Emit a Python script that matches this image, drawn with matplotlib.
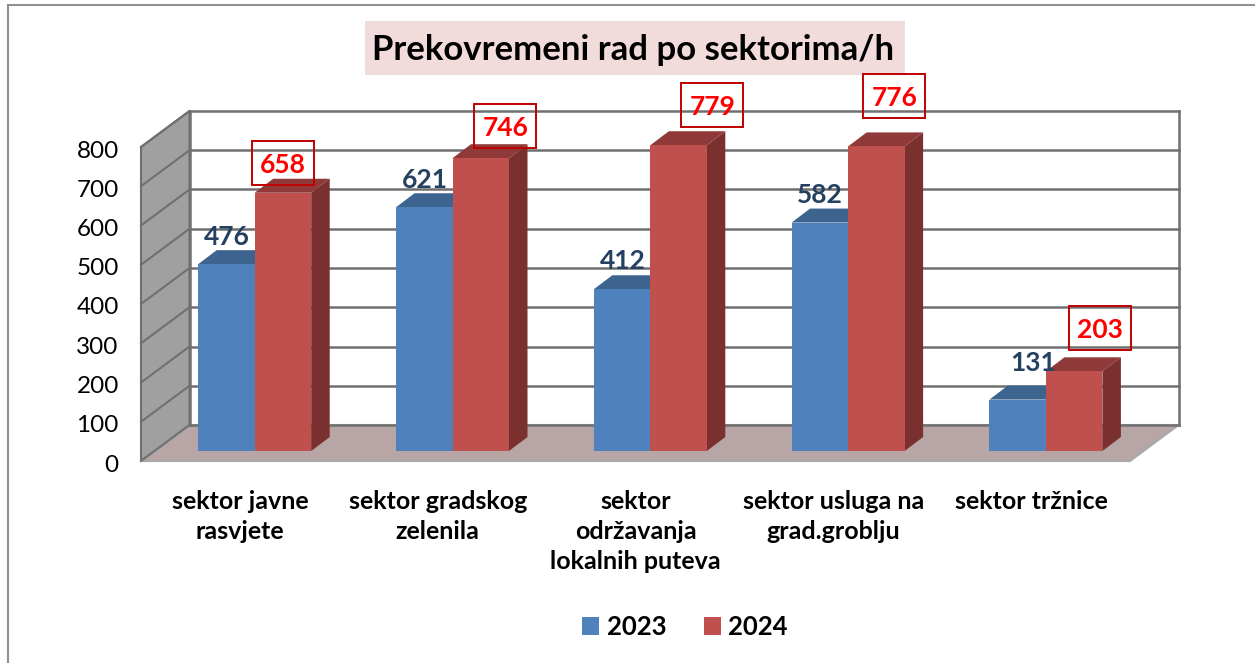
"""
Overtime hours per sector, drawn as a fake 3D column chart.
"""

import matplotlib
matplotlib.use("Agg")

import matplotlib.pyplot as plt
from matplotlib.lines import Line2D
from matplotlib.patches import Polygon, Rectangle
from matplotlib.transforms import ScaledTranslation

categories = [
    "sektor javne\nrasvjete",
    "sektor gradskog\nzelenila",
    "sektor\nodržavanja\nlokalnih puteva",
    "sektor usluga na\ngrad.groblju",
    "sektor tržnice",
]
values_2023 = [476, 621, 412, 582, 131]
values_2024 = [658, 746, 779, 776, 203]
y_ticks = [0, 100, 200, 300, 400, 500, 600, 700, 800]

W, H = 1255, 663
plt.rcParams["font.family"] = ["Lato", "DejaVu Sans"]

# front plane of the chart box, in pixels
LEFT, RIGHT, BOTTOM, TOP = 141, 1130, 461, 147
PX_X = 5 / (RIGHT - LEFT)
PX_Y = 800 / (BOTTOM - TOP)

# depth of the box and of the bars
DEPTH_X, DEPTH_Y = 48.5 * PX_X, 36 * PX_Y
BAR_DX, BAR_DY = 18.5 * PX_X, 14 * PX_Y
SHIFT_X, SHIFT_Y = 14.8 * PX_X, 10 * PX_Y
BAR_W = 56.5 * PX_X

BLUE, BLUE_TOP = "#4F81BD", "#3D638F"
RED, RED_TOP, RED_SIDE = "#C0504D", "#8F3A38", "#7A302E"
GRID = "#707070"

fig = plt.figure(figsize=(W / 100, H / 100), dpi=100)
ax = fig.add_axes([LEFT / W, 1 - BOTTOM / H, (RIGHT - LEFT) / W, (BOTTOM - TOP) / H])
ax.set_xlim(-0.5, 4.5)
ax.set_ylim(0, 800)
ax.patch.set_visible(False)
for spine in ax.spines.values():
    spine.set_visible(False)

x0, x1 = -0.5, 4.5

# left wall and floor
ax.add_patch(Polygon(
    [(x0, 0), (x0 + DEPTH_X, DEPTH_Y), (x0 + DEPTH_X, 800 + DEPTH_Y), (x0, 800)],
    facecolor="#A0A0A0", edgecolor=GRID, lw=1.5, clip_on=False, zorder=1,
))
ax.add_patch(Polygon(
    [(x0, 0), (x1, 0), (x1 + DEPTH_X, DEPTH_Y), (x0 + DEPTH_X, DEPTH_Y)],
    facecolor="#B7A6A5", edgecolor="#A8A8A8", lw=1.5, clip_on=False, zorder=1,
))

# grid lines on both walls
for v in y_ticks:
    ax.plot([x0, x0 + DEPTH_X], [v, v + DEPTH_Y], color=GRID, lw=1.5,
            clip_on=False, zorder=2)
    ax.plot([x0 + DEPTH_X, x1 + DEPTH_X], [v + DEPTH_Y, v + DEPTH_Y], color=GRID,
            lw=1.8, clip_on=False, zorder=2)
ax.plot([x0 + DEPTH_X, x0 + DEPTH_X], [DEPTH_Y, 800 + DEPTH_Y], color=GRID, lw=1.8,
        clip_on=False, zorder=2)
ax.plot([x1 + DEPTH_X, x1 + DEPTH_X], [DEPTH_Y, 800 + DEPTH_Y], color=GRID, lw=1.8,
        clip_on=False, zorder=2)


def draw_bars(positions, values, front, top, side, label, zorder):
    bars = ax.bar(positions, values, BAR_W, bottom=SHIFT_Y, color=front, label=label,
                  clip_on=False, zorder=zorder + 1)
    for px, v in zip(positions, values):
        xl, xr = px - BAR_W / 2, px + BAR_W / 2
        yb, yt = SHIFT_Y, SHIFT_Y + v
        ax.add_patch(Polygon(
            [(xl, yt), (xr, yt), (xr + BAR_DX, yt + BAR_DY), (xl + BAR_DX, yt + BAR_DY)],
            facecolor=top, clip_on=False, zorder=zorder,
        ))
        ax.add_patch(Polygon(
            [(xr, yb), (xr + BAR_DX, yb + BAR_DY), (xr + BAR_DX, yt + BAR_DY), (xr, yt)],
            facecolor=side, clip_on=False, zorder=zorder,
        ))
    return bars


x = list(range(len(categories)))
x_2023 = [i + SHIFT_X - BAR_W / 2 for i in x]
x_2024 = [i + SHIFT_X + BAR_W / 2 for i in x]
bars_2023 = draw_bars(x_2023, values_2023, BLUE, BLUE_TOP, BLUE_TOP, "2023", 3)
bars_2024 = draw_bars(x_2024, values_2024, RED, RED_TOP, RED_SIDE, "2024", 5)

# data labels: offsets from the bar centre and top, in pixels
offsets_2023 = [(0.5, 27), (0.5, 27), (0.5, 28), (-0.3, 28), (15.5, 37)]
offsets_2024 = [(-0.3, 30), (24.7, 32), (33.9, 40), (17.9, 50), (25.9, 43)]

for px, v, (ox, oy) in zip(x_2023, values_2023, offsets_2023):
    ax.text(px + ox * PX_X, SHIFT_Y + v + oy * PX_Y, str(v), color="#254061",
            fontsize=19, fontweight="bold", ha="center", va="center", zorder=8)

for px, v, (ox, oy) in zip(x_2024, values_2024, offsets_2024):
    cx, cy = px + ox * PX_X, SHIFT_Y + v + oy * PX_Y
    ax.text(cx, cy - 2 * PX_Y, str(v), color="#FF0000", fontsize=19, fontweight="bold",
            ha="center", va="center", zorder=9, clip_on=False)
    ax.add_patch(Rectangle(
        (cx - 31 * PX_X, cy - 22 * PX_Y), 62 * PX_X, 44 * PX_Y,
        fill=False, edgecolor="#C00000", lw=1.4, clip_on=False, zorder=8,
    ))

# axes text
ax.set_yticks(y_ticks)
ax.set_xticks(x)
ax.set_xticklabels(categories, fontweight="bold", fontsize=18, linespacing=1.37)
ax.tick_params(axis="both", length=0)
ax.tick_params(axis="y", labelsize=17.5, pad=16)
ax.tick_params(axis="x", pad=21)
for tick in ax.yaxis.get_major_ticks():
    tick.label1.set_transform(
        tick.label1.get_transform() + ScaledTranslation(0, -2 / 100, fig.dpi_scale_trans)
    )

# title on its pink box
fig.text(633 / W, 1 - 49.5 / H, "Prekovremeni rad po sektorima/h", fontsize=25,
         fontweight="bold", color="black", ha="center", va="center", zorder=10)
fig.add_artist(Rectangle((365 / W, 1 - 75 / H), 540 / W, 54 / H, facecolor="#F2DCDB",
                         edgecolor="none", transform=fig.transFigure, zorder=-1))

ax.legend(
    handles=[bars_2023, bars_2024], loc="center", frameon=False,
    bbox_to_anchor=(685 / W, 1 - 627 / H), bbox_transform=fig.transFigure,
    ncol=2, prop={"weight": "bold", "size": 18.5}, handlelength=0.66, handleheight=0.66,
    handletextpad=0.3, columnspacing=1.45,
)

# chart frame, only partly visible in the source
fig.add_artist(Line2D([8 / W, 8 / W], [0, 1 - 5 / H], color="#909090", lw=1.5))
fig.add_artist(Line2D([8 / W, 1], [1 - 5 / H, 1 - 5 / H], color="#909090", lw=1.5))

fig.savefig("out.png", dpi=100)
plt.close(fig)
